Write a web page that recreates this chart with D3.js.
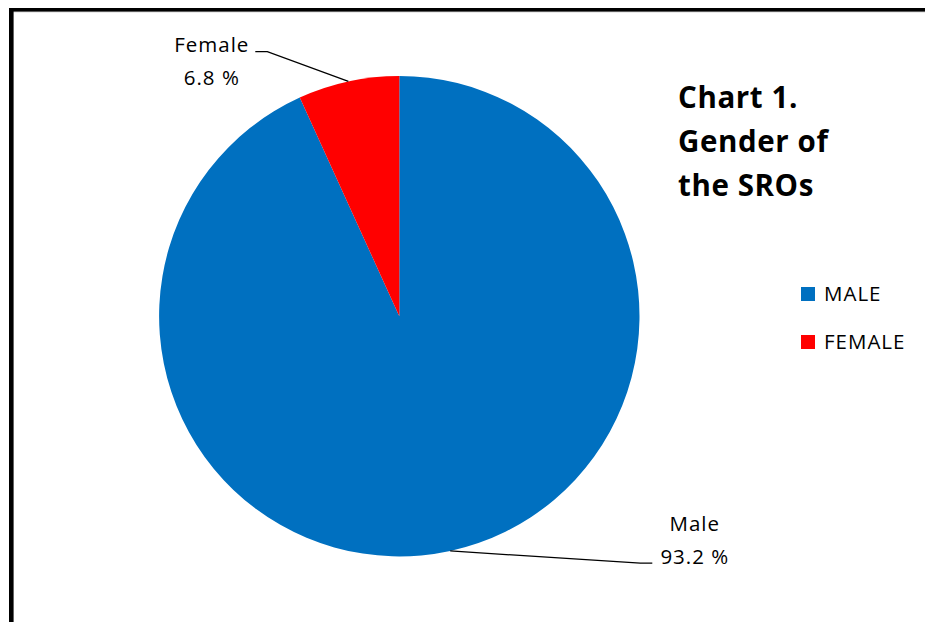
<!DOCTYPE html>
<html>
<head>
<meta charset="utf-8">
<script src="https://cdn.jsdelivr.net/npm/d3@7"></script>
<style>
  html, body { margin: 0; padding: 0; background: #fff; }
  svg { display: block; }
  text { font-family: "Open Sans", "Liberation Sans", sans-serif; fill: #000; }
</style>
</head>
<body>
<svg id="chart" width="925" height="622"></svg>
<script>
// Gender split of the SROs (percent)
const categories = ["Male", "Female"];
const values = [93.2, 6.8];
const legendLabels = ["MALE", "FEMALE"];
const colors = ["#0070C0", "#FF0000"];
const titleLines = ["Chart 1.", "Gender of", "the SROs"];

const svg = d3.select("#chart");
const W = 925, H = 622;

// chart frame (top and left edges visible)
svg.append("rect").attr("x", 9).attr("y", 11).attr("width", W).attr("height", 1.2).attr("fill", "#9a9a9a");
svg.append("rect").attr("x", 9).attr("y", 8).attr("width", W).attr("height", 3.4).attr("fill", "#000");
svg.append("rect").attr("x", 9).attr("y", 8).attr("width", 4.6).attr("height", H).attr("fill", "#000");

const cx = 399.3, cy = 316.2, r = 240.2;
const color = d3.scaleOrdinal().domain(categories).range(colors);

const pie = d3.pie().sort(null).value(d => d.value);
const arcs = pie(categories.map((c, i) => ({ cat: c, value: values[i] })));
const arc = d3.arc().innerRadius(0).outerRadius(r);

const g = svg.append("g").attr("transform", `translate(${cx},${cy})`);
g.selectAll("path.slice")
  .data(arcs)
  .enter().append("path")
  .attr("class", "slice")
  .attr("d", arc)
  .attr("fill", d => color(d.data.cat));

// point on the rim at the middle of a slice
function rimPoint(d) {
  const a = (d.startAngle + d.endAngle) / 2;
  return [Math.sin(a) * r, -Math.cos(a) * r];
}

// data labels with leader lines (label offsets relative to pie centre)
const labelSpec = {
  Male:   { tx: 295.5, ty1: 215, ty2: 248, line: [[241, 247], [253, 247]] },
  Female: { tx: -187.5, ty1: -264, ty2: -231, line: [[-132, -264.5], [-144, -264.5]] }
};

arcs.forEach(d => {
  const s = labelSpec[d.data.cat];
  const p = rimPoint(d);
  g.append("polyline")
    .attr("points", [p, s.line[0], s.line[1]].map(q => q.join(",")).join(" "))
    .attr("fill", "none")
    .attr("stroke", "#000")
    .attr("stroke-width", 1.3);
  const t = g.append("text")
    .attr("text-anchor", "middle")
    .style("font-size", "20.5px")
    .style("letter-spacing", "1px");
  t.append("tspan").attr("x", s.tx).attr("y", s.ty1).text(d.data.cat);
  t.append("tspan").attr("x", s.tx).attr("y", s.ty2).text(d3.format(".1f")(d.data.value) + " %");
});

// title
const title = svg.append("text")
  .attr("x", 678)
  .style("font-size", "29.5px")
  .style("font-weight", "bold")
  .style("letter-spacing", "0.6px");
titleLines.forEach((line, i) => {
  title.append("tspan").attr("x", 678).attr("y", 108 + i * 44).text(line);
});

// legend
const legend = svg.append("g").attr("transform", "translate(801,287)");
const item = legend.selectAll("g")
  .data(legendLabels)
  .enter().append("g")
  .attr("transform", (d, i) => `translate(0,${i * 48})`);
item.append("rect")
  .attr("width", 14).attr("height", 14)
  .attr("fill", (d, i) => colors[i]);
item.append("text")
  .attr("x", 23).attr("y", 14)
  .style("font-size", "20.5px")
  .style("letter-spacing", "1px")
  .text(d => d);
</script>
</body>
</html>
